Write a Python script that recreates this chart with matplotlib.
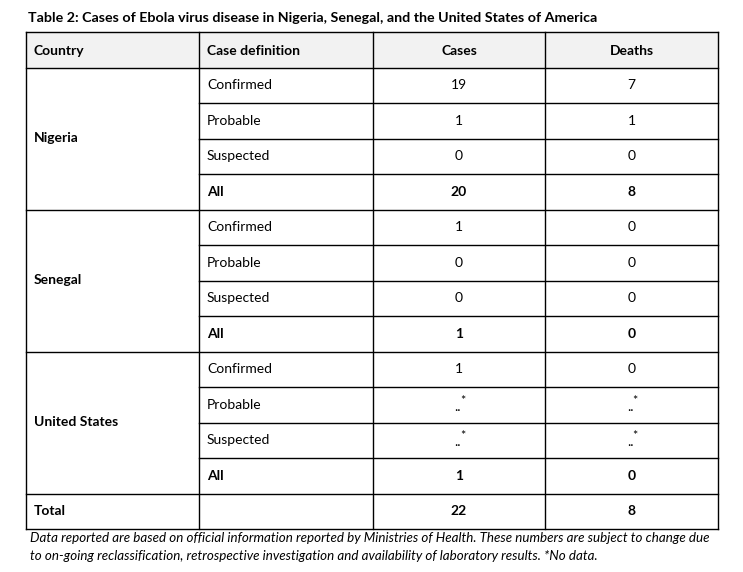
import matplotlib.pyplot as plt

# table data
title = "Table 2: Cases of Ebola virus disease in Nigeria, Senegal, and the United States of America"
headers = ["Country", "Case definition", "Cases", "Deaths"]
countries = ["Nigeria", "Senegal", "United States"]
case_defs = ["Confirmed", "Probable", "Suspected", "All"]
cases = [["19", "1", "0", "20"],
         ["1", "0", "0", "1"],
         ["1", "..*", "..*", "1"]]
deaths = [["7", "1", "0", "8"],
          ["0", "0", "0", "0"],
          ["0", "..*", "..*", "0"]]
total_cases = "22"
total_deaths = "8"
footnote = ["Data reported are based on official information reported by Ministries of Health. These numbers are subject to change due",
            "to on-going reclassification, retrospective investigation and availability of laboratory results. *No data."]

plt.rcParams['font.family'] = ['Lato', 'DejaVu Sans']

fig = plt.figure(figsize=(7.43, 5.72), dpi=100)
ax = fig.add_axes([0, 0, 1, 1])
ax.set_xlim(0, 743)
ax.set_ylim(572, 0)
ax.axis('off')

col_x = [26, 199, 373, 545, 718]
top = 32
head_h = 35.5
row_h = 35.5
fs = 10
lw = 1.0

ax.text(28, 18, title, fontsize=10.3, fontweight='bold', va='center', ha='left')

# header
ax.fill_between([col_x[0], col_x[-1]], top, top + head_h, color='#f2f2f2', zorder=0)
for i, h in enumerate(headers):
    if i < 2:
        ax.text(col_x[i] + 8, top + head_h / 2 + 1, h, fontsize=fs, fontweight='bold', va='center')
    else:
        ax.text((col_x[i] + col_x[i + 1]) / 2, top + head_h / 2 + 1, h, fontsize=fs,
                fontweight='bold', va='center', ha='center')


def put_value(x, y, s, bold):
    w = 'bold' if bold else 'normal'
    if s.endswith('*'):
        ax.text(x + 2, y + 2, s[:-1], fontsize=fs, va='center', ha='right', fontweight=w)
        ax.text(x + 1, y - 4, '*', fontsize=fs - 1, va='center', ha='left', fontweight=w)
    else:
        ax.text(x, y, s, fontsize=fs, va='center', ha='center', fontweight=w)


y = top + head_h
ax.plot([col_x[0], col_x[-1]], [top, top], color='black', lw=lw)
ax.plot([col_x[0], col_x[-1]], [y, y], color='black', lw=lw)
for g, country in enumerate(countries):
    y0 = y
    for r, cd in enumerate(case_defs):
        yc = y + row_h / 2
        bold = cd == "All"
        ax.text(col_x[1] + 8, yc, cd, fontsize=fs, va='center',
                fontweight='bold' if bold else 'normal')
        put_value((col_x[2] + col_x[3]) / 2, yc, cases[g][r], bold)
        put_value((col_x[3] + col_x[4]) / 2, yc, deaths[g][r], bold)
        y += row_h
        x_start = col_x[1] if r < len(case_defs) - 1 else col_x[0]
        ax.plot([x_start, col_x[-1]], [y, y], color='black', lw=lw)
    ax.text(col_x[0] + 8, (y0 + y) / 2, country, fontsize=fs, fontweight='bold', va='center')

# total row
yc = y + row_h / 2
ax.text(col_x[0] + 8, yc, "Total", fontsize=fs, fontweight='bold', va='center')
put_value((col_x[2] + col_x[3]) / 2, yc, total_cases, True)
put_value((col_x[3] + col_x[4]) / 2, yc, total_deaths, True)
y += row_h
ax.plot([col_x[0], col_x[-1]], [y, y], color='black', lw=lw)

for x in col_x:
    ax.plot([x, x], [top, y], color='black', lw=lw)

for i, line in enumerate(footnote):
    ax.text(30, y + 9 + i * 18, line, fontsize=9.6, style='italic', va='center')

fig.savefig('out.png', dpi=100)
